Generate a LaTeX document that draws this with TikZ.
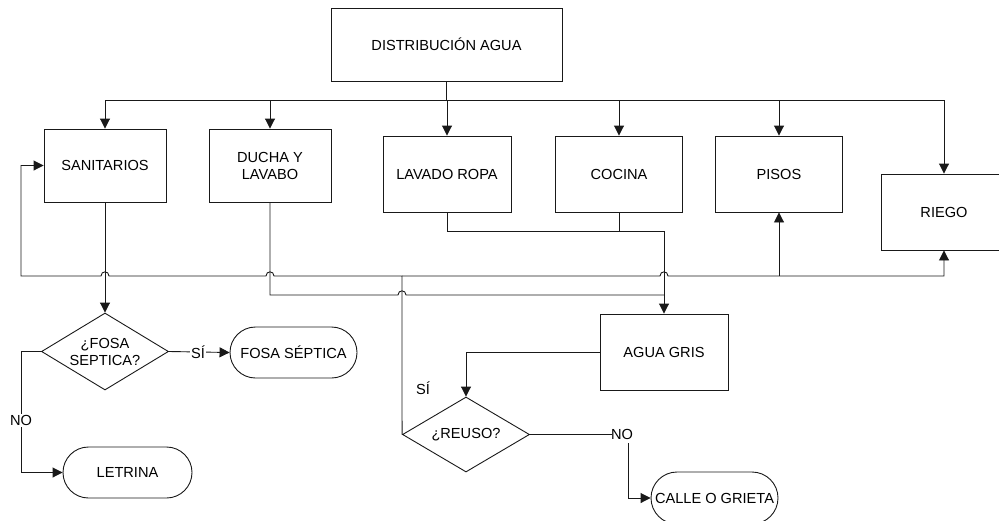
\documentclass[tikz,border=0pt]{standalone}
\usepackage{fontspec}
\setmainfont{Liberation Sans}
\usetikzlibrary{shapes.geometric,shapes.misc,arrows.meta}
\begin{document}
\begin{tikzpicture}[x=1pt,y=-1pt,
  font=\fontsize{14.6}{17}\selectfont,
  ln/.style={draw=black!90,line width=0.9pt},
  arr/.style={ln,-{Triangle[length=10pt,width=10pt]}},
  boxn/.style={draw=black!90,line width=0.9pt,rectangle,inner sep=0pt,align=center},
  term/.style={draw=black!90,line width=0.9pt,rounded rectangle,inner sep=0pt,minimum width=127pt,minimum height=51pt},
  deci/.style={draw=black!90,line width=0.9pt,diamond,aspect=1.7,inner sep=0pt,align=center,minimum width=127pt},
  lbl/.style={fill=white,inner sep=1pt}]
\useasboundingbox (0,0) rectangle (999,520);
\clip (0,0) rectangle (999,520);
% nodes
\node[boxn,minimum width=231pt,minimum height=73pt] (dist) at (446.5,44.5) {DISTRIBUCIÓN AGUA};
\node[boxn,minimum width=122pt,minimum height=73pt] (sanit) at (105,165.5) {SANITARIOS};
\node[boxn,minimum width=122pt,minimum height=73pt] (ducha) at (270,165.5) {DUCHA Y\\LAVABO};
\node[boxn,minimum width=128pt,minimum height=76pt] (lavado) at (447,174) {LAVADO ROPA};
\node[boxn,minimum width=127pt,minimum height=76pt] (cocina) at (619,174) {COCINA};
\node[boxn,minimum width=127pt,minimum height=76pt] (pisos) at (779,174) {PISOS};
\node[boxn,minimum width=126pt,minimum height=76pt] (riego) at (944,212) {RIEGO};
\node[boxn,minimum width=128pt,minimum height=76pt] (agua) at (664,352) {AGUA GRIS};
\node[deci,minimum height=77pt] (fosa) at (105,351.5) {¿FOSA\\SEPTICA?};
\node[deci,minimum height=75pt] (reuso) at (466,434.5) {¿REUSO?};
\node[term] (septica) at (293.5,352.5) {FOSA SÉPTICA};
\node[term,minimum width=129pt] (letrina) at (127.5,472.5) {LETRINA};
\node[term,minimum height=52pt] (calle) at (714.5,498) {CALLE O GRIETA};
% coordinates
\coordinate (busL) at (105,100);
\coordinate (busR) at (944,100);
\coordinate (busM) at (446.5,100);
% distribution bus
\draw[ln] (dist.south) -- (busM);
\draw[ln] (busL) -- (busR);
\draw[arr] (busL) -- (sanit.north);
\draw[arr] (270,100) -- (ducha.north);
\draw[arr] (447,100) -- (lavado.north);
\draw[arr] (619,100) -- (cocina.north);
\draw[arr] (779,100) -- (pisos.north);
\draw[arr] (busR) -- (riego.north);
% grey water collection
\draw[arr] (lavado.south) -- (447,231) -- (664,231) -- (agua.north);
\draw[ln] (cocina.south) -- (619,231);
\draw[ln] (ducha.south) -- (270,295) -- (398,295) .. controls (398,289.5) and (406,289.5) .. (406,295) -- (664,295);
% reuse line
\draw[arr] (reuso.west) -- (402,276) -- (274,276) .. controls (274,270.5) and (266,270.5) .. (266,276)
  -- (109,276) .. controls (109,270.5) and (101,270.5) .. (101,276) -- (21,276) -- (21,0 |- sanit.west) -- (sanit.west);
\draw[arr] (402,276) -- (660,276) .. controls (660,270.5) and (668,270.5) .. (668,276) -- (944,276) -- (riego.south);
\draw[arr] (779,276) -- (pisos.south);
% sanitarios branch
\draw[arr] (sanit.south) -- (fosa.north);
\draw[arr] (fosa.east) -- node[lbl,pos=0.48]{SÍ} (septica.west);
\draw[arr] (fosa.west) -- (21,0 |- fosa.west) -- node[lbl,pos=0.57]{NO} (21,0 |- letrina.west) -- (letrina.west);
% agua gris branch
\draw[arr] (agua.west) -- (466,0 |- agua.west) -- (reuso.north);
\node (si2) at (423,388) {SÍ};
\draw[ln] (reuso.east) -- (612,434.5);
\node[inner sep=1pt] (no2) at (622,434.5) {NO};
\draw[arr] (628,443) -- (628,0 |- calle.west) -- (calle.west);
\end{tikzpicture}
\end{document}
